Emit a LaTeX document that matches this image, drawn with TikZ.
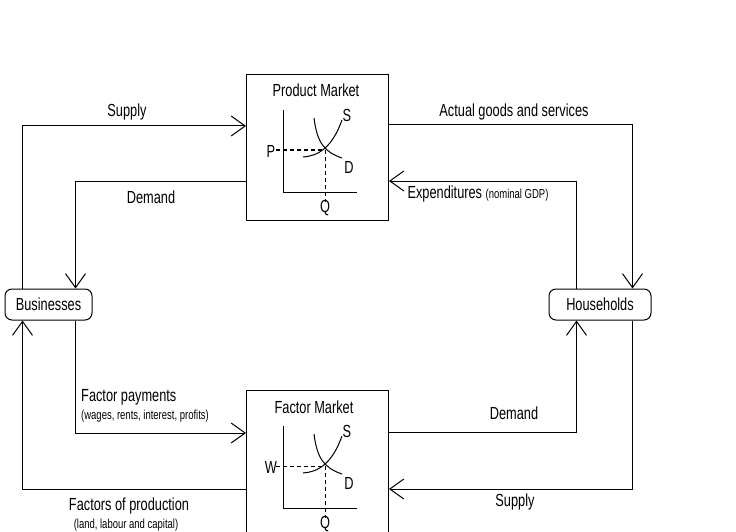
\documentclass[tikz,border=0pt]{standalone}
\usepackage{fontspec}
\setmainfont{Liberation Sans}[FakeStretch=0.73]
\usetikzlibrary{arrows.meta,calc}
\newcommand\sdgraph[3]{%
  \begin{scope}[shift={(#1)}]
    \draw[ln] (37,36) -- (37,118) -- (111,118);
    \draw[dashln] (30,76) -- (79,76);
    \draw[dashln] (79,76) -- (79,128);
    \draw[ln] (57,83) .. controls (72,82) and (86,74) .. (96,46);
    \draw[ln] (68,44) .. controls (71,68) and (78,78) .. (96,84);
    \node (#3p) at (25,77) {#2};
    \node (#3q) at (79,134) {Q};
    \node (#3s) at (101,41) {S};
    \node (#3d) at (103,93) {D};
  \end{scope}}
\begin{document}
\begin{tikzpicture}[x=1pt,y=-1pt,
  every node/.style={inner sep=0pt, font=\fontsize{17.5}{20}\selectfont},
  smalltxt/.style={font=\fontsize{13}{15}\selectfont},
  ln/.style={line width=1pt},
  dashln/.style={line width=1pt, dash pattern=on 4pt off 3pt},
  market/.style={draw, line width=1pt, minimum width=142pt, minimum height=146pt, anchor=north west},
  agent/.style={draw, line width=1pt, rounded corners=7pt, minimum height=31pt},
  flow/.style={line width=1pt, -{Straight Barb[length=14pt,width=20pt]}}]
\useasboundingbox (0,0) rectangle (736,532);
\fill[white] (0,0) rectangle (736,532);

\node[market] (pm) at (246,74) {};
\node[market] (fm) at (246,390) {};
\node[agent, minimum width=87pt] (bus) at (48.5,304.5) {Businesses};
\node[agent, minimum width=102pt] (hh) at (600,304.5) {Households};

\node (pmt) at (316,90) {Product Market};
\node (fmt) at (314,407) {Factor Market};
\sdgraph{pm.north west}{P}{pm}
\sdgraph{fm.north west}{W}{fm}

% flows
\draw[flow] ($(bus.north west)+(18,0)$) |- ($(pm.north west)+(0,52)$);
\draw[flow] ($(pm.north west)+(0,107)$) -| ($(bus.north west)+(71,0)$);
\draw[flow] ($(pm.north east)+(0,51)$) -| ($(hh.north west)+(84,0)$);
\draw[flow] ($(hh.north west)+(28,0)$) |- ($(pm.north east)+(0,107)$);
\draw[flow] ($(bus.south west)+(71,0)$) |- ($(fm.north west)+(0,43)$);
\draw[flow] ($(fm.north west)+(0,99)$) -| ($(bus.south west)+(18,0)$);
\draw[flow] ($(fm.north east)+(0,42)$) -| ($(hh.south west)+(28,0)$);
\draw[flow] ($(hh.south west)+(84,0)$) |- ($(fm.north east)+(0,99)$);

% labels
\node (l1) at (127,112) {Supply};
\node (l2) at (151,197) {Demand};
\node (l3) at (514,112) {Actual goods and services};
\node (l4) at (478,194) {Expenditures {\fontsize{13}{15}\selectfont (nominal GDP)}};
\node[anchor=west] (l5) at (81,397) {Factor payments};
\node[anchor=west, smalltxt] (l5b) at (81,416) {(wages, rents, interest, profits)};
\node (l6) at (129,506) {Factors of production};
\node[smalltxt] (l6b) at (126,525) {(land, labour and capital)};
\node (l7) at (514,413) {Demand};
\node (l8) at (515,502) {Supply};
\end{tikzpicture}
\end{document}
